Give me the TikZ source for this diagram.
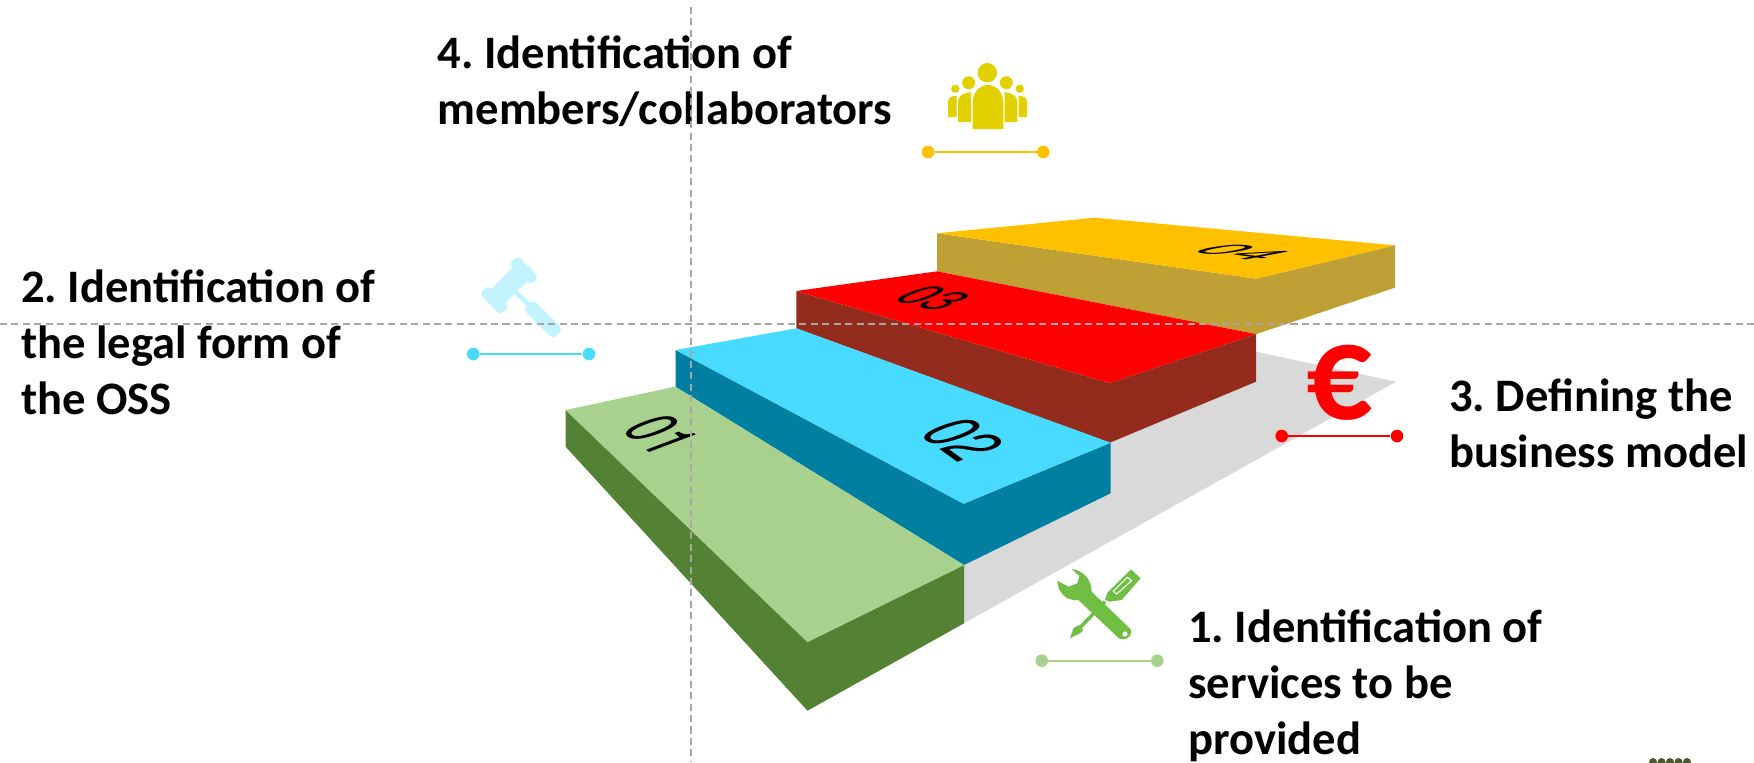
\documentclass[tikz,border=0pt]{standalone}
\usepackage{fontspec}
\setmainfont{Carlito}
\newfontfamily\numfont{TeX Gyre Heros}
\usepackage{color}
\frenchspacing

\begin{document}
\begin{tikzpicture}[x=0.02cm,y=-0.02cm,
	caption/.style ={anchor=north west, inner sep=0pt, align=left, font=\fontsize{26.5}{32}\selectfont\bfseries},
	stepno/.style ={transform shape, inner sep=0pt, font=\fontsize{22.8}{24}\selectfont\numfont},
	tick/.style ={circle, fill=#1, inner sep=0pt, minimum size=12.6*0.02cm},
	guide/.style ={draw=dashgray, line width=1.1pt, dash pattern=on 4pt off 2.5pt}]
	\definecolor{dashgray}{HTML}{A6A6A6}
	\definecolor{shadegray}{HTML}{D9D9D9}
	\definecolor{greentop}{HTML}{A8D18D}
	\definecolor{greenside}{HTML}{548235}
	\definecolor{bluetop}{HTML}{49DBFF}
	\definecolor{blueside}{HTML}{007FA0}
	\definecolor{redtop}{HTML}{FF0000}
	\definecolor{redside}{HTML}{942C1E}
	\definecolor{ambertop}{HTML}{FFC000}
	\definecolor{amberside}{HTML}{BFA035}
	\definecolor{peoplecol}{HTML}{E2D000}
	\definecolor{gavelcol}{HTML}{C3F3FF}
	\definecolor{toolcol}{HTML}{70BF44}
	\definecolor{beadcol}{HTML}{4A5A30}
		\clip (0,0) rectangle (1754,762);
		% shadow under the stairs
		\fill[shadegray] (964,565)--(1110,440)--(1256,351.7)--(1396,381.7)--(964,623.3)--cycle;
		% stairs
		\fill[amberside] (937,233.3)--(937,271.3)--(1256.3,334)--(1395,287.7)--(1395,245.3)--(1256.3,278.7)--cycle;
		\fill[ambertop] (937,233.3)--(1094.3,217.7)--(1395,245.3)--(1256.3,278.7)--cycle;
		\fill[redside] (796.3,291)--(796.3,328.3)--(1109.8,442.7)--(1256,381.7)--(1256,334)--(1109.8,383)--cycle;
		\fill[redtop] (796.3,291)--(937,271.3)--(1256,334)--(1109.8,383)--cycle;
		\fill[blueside] (675.5,350)--(675.5,386.7)--(964,565)--(1110.6,493.3)--(1110.6,442.7)--(963.6,503.7)--cycle;
		\fill[bluetop] (675.5,350)--(796.4,328.3)--(1110.6,442.7)--(963.6,503.7)--cycle;
		\fill[greenside] (565.6,410)--(565.6,446.7)--(807.5,710.7)--(964,623.3)--(964,565)--(807.5,642)--cycle;
		\fill[greentop] (565.6,410)--(675,386.7)--(964,565)--(807.5,642)--cycle;
		% numbers on the stairs
		\node[stepno,cm={.78,-.65,1.65,.62,(661,435)}] (no1) at (0,0) {01};
		\node[stepno,cm={.95,-.68,1.75,.64,(962.7,440)}] (no2) at (0,0) {02};
		\node[stepno,cm={1.07,-.28,1.35,.53,(933,298.6)}] (no3) at (0,0) {03};
		\node[stepno,cm={1.5,-.2,1.5,.28,(1242,252.5)}] (no4) at (0,0) {04};
		% captions
		\node[caption] (cap4) at (437.5,35) {4. Identification of\\members/collaborators};
		\node[caption] (cap2) at (20.7,269) {2. Identification of\\the legal form of\\the OSS};
		\node[caption] (cap3) at (1449,378) {3. Defining the\\business model};
		\node[caption] (cap1) at (1188,609) {1. Identification of\\services to be\\provided};
		% ticks
		\node[tick=ambertop] (t4a) at (928,152) {};
		\node[tick=ambertop] (t4b) at (1043.3,152) {};
		\draw[ambertop,line width=1.2pt] (t4a)--(t4b);
		\node[tick=bluetop] (t2a) at (473.3,354) {};
		\node[tick=bluetop] (t2b) at (589,354) {};
		\draw[bluetop,line width=1.2pt] (t2a)--(t2b);
		\node[tick=redtop] (t3a) at (1281.7,436) {};
		\node[tick=redtop] (t3b) at (1397,436) {};
		\draw[redtop,line width=1pt] (t3a)--(t3b);
		\node[tick=greentop] (t1a) at (1041.7,660.7) {};
		\node[tick=greentop] (t1b) at (1157.3,660.7) {};
		\draw[greentop,line width=1pt] (t1a)--(t1b);
		% people
		\fill[peoplecol] (987.3,72.7) circle (9.7);
		\fill[peoplecol] (968.7,82.7) circle (6.5);
		\fill[peoplecol] (1006.3,82.7) circle (6.5);
		\fill[peoplecol] (955.3,88.7) circle (4.2);
		\fill[peoplecol] (1019.7,88.7) circle (4.2);
		\fill[peoplecol] (972.7,129)--(972.7,103) .. controls (972.7,91) and (981,85) .. (988,85) .. controls (995,85) and (1003.3,91) .. (1003.3,103)--(1003.3,129)--cycle;
		\fill[peoplecol] (958,122)--(958,102) .. controls (958,96) and (963,92.5) .. (971.5,92.3) .. controls (970,96) and (971,100) .. (971,104)--(971,122)--cycle;
		\fill[peoplecol] (1017.3,122)--(1017.3,102) .. controls (1017.3,96) and (1012.3,92.5) .. (1004,92.3) .. controls (1005.5,96) and (1004.5,100) .. (1004.5,104)--(1004.5,122)--cycle;
		\fill[peoplecol] (948,117)--(948,102) .. controls (948,98) and (951,96) .. (956.7,95.7)--(956.7,117)--cycle;
		\fill[peoplecol] (1027,117)--(1027,102) .. controls (1027,98) and (1024,96) .. (1018.5,95.7)--(1018.5,117)--cycle;
		% gavel
		\begin{scope}[shift={(509,285.3)},rotate=-45]
			\fill[gavelcol,rounded corners=1.5pt] (-10,-18) rectangle (10,18);
			\fill[gavelcol,rounded corners=2.5pt] (-15,-27) rectangle (15,-15);
			\fill[gavelcol,rounded corners=2.5pt] (-15,15) rectangle (15,27);
			\fill[gavelcol] (8,-2.5) rectangle (30,2.5);
			\fill[gavelcol,rounded corners=2.5pt] (27,-7) rectangle (69,7);
		\end{scope}
		% wrench and screwdriver
		\begin{scope}[shift={(1020,550)},scale=0.3333]
			\fill[toolcol] (333,58)--(362,85)--(305,150)--(270,155)--(255,150)--(262,128)--cycle;
			\draw[white,line width=0.6pt] (322,82)--(335,92)--(290,132)--(280,124)--cycle;
			\draw[toolcol,line width=2pt] (255,155)--(178,235);
			\fill[toolcol] (150,265)--(160,235)--(175,226)--(190,240)--(180,250)--cycle;
			\fill[toolcol,even odd rule] (155,57) .. controls (185,60) and (215,85) .. (215,125)--(332,238) .. controls (340,250) and (325,272) .. (305,268)--(297,265)--(175,150) .. controls (140,155) and (110,125) .. (113,92)--(145,110)--(172,100)--(178,78)--cycle (315,252) circle (8);
		\end{scope}
		% euro sign
		\node[inner sep=0pt,text=redtop,font=\fontsize{78}{78}\selectfont\bfseries] (euro) at (1339,382.7) {\scalebox{.95}[1]{€}};
		% beads at the lower edge
		\foreach \i in {0,...,4}
			\fill[beadcol] (1653+\i*8.5,762) circle (4);
		% guide lines
		\coordinate (vtop) at (691,7);
		\coordinate (vbot) at (691,762);
		\coordinate (hlef) at (0,323.7);
		\coordinate (hrig) at (1754,323.7);
		\draw[guide] (vtop)--(vbot);
		\draw[guide] (hlef)--(hrig);
	\end{tikzpicture}
\end{document}
